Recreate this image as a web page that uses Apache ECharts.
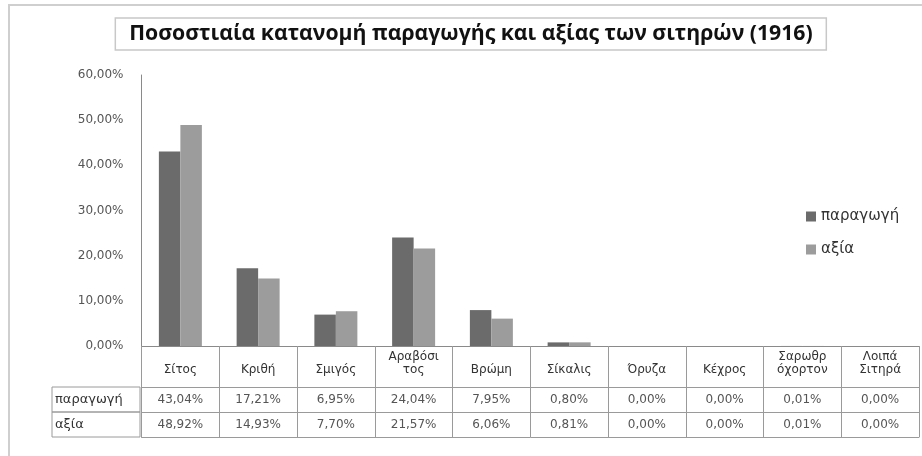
<!DOCTYPE html>
<html>
<head>
<meta charset="utf-8">
<script src="https://cdn.jsdelivr.net/npm/echarts@6/dist/echarts.min.js"></script>
<style>html,body{margin:0;padding:0;background:#fff}#c{width:922px;height:456px}</style>
</head>
<body>
<div id="c"></div>
<script>
const categories = ['Σίτος','Κριθή','Σμιγός','Αραβόσι\nτος','Βρώμη','Σίκαλις','Όρυζα','Κέχρος','Σαρωθρ\nόχορτον','Λοιπά\nΣιτηρά'];
const production = [43.04, 17.21, 6.95, 24.04, 7.95, 0.80, 0.00, 0.00, 0.01, 0.00];
const value = [48.92, 14.93, 7.70, 21.57, 6.06, 0.81, 0.00, 0.00, 0.01, 0.00];
const seriesNames = ['παραγωγή', 'αξία'];
const yTicks = [0, 10, 20, 30, 40, 50, 60];
const titleText = 'Ποσοστιαία κατανομή παραγωγής και αξίας των σιτηρών (1916)';

const fmt = v => v.toFixed(2).replace('.', ',') + '%';
const FONT = '"DejaVu Sans"';
const TITLE_FONT = 'Open Sans';
const GRID_L = 141.5, GRID_B = 110, GRID_T = 75, GRID_R = 3;
const LINE = '#9a9a9a';
const ROW1 = 41, ROW2 = 66, ROW3 = 91;

// size title text to the target box width
const cv = document.createElement('canvas').getContext('2d');
cv.font = 'bold 10px "' + TITLE_FONT + '"';
const w10 = cv.measureText(titleText).width;
const TITLE_TEXT_W = 684, TITLE_BOX_W = 712;
const titleSize = 10 * TITLE_TEXT_W / w10;
cv.font = 'bold ' + titleSize + 'px "' + TITLE_FONT + '"';
const tw = cv.measureText(titleText).width;
const padH = (TITLE_BOX_W - tw) / 2;

const chart = echarts.init(document.getElementById('c'));
const rowAxis = (offset, name, values) => ({
  type: 'category', data: categories, position: 'bottom', offset: offset,
  boundaryGap: true,
  axisLine: { show: true, lineStyle: { color: LINE, width: 1 } },
  axisTick: { show: false },
  axisLabel: values ? {
    show: true, interval: 0, margin: 12.5, verticalAlign: 'middle',
    fontFamily: FONT, fontSize: 12, color: '#555',
    formatter: (v, i) => fmt(values[i])
  } : { show: false },
  name: name ? '{c|' + name + '}' : '', nameLocation: 'start', nameGap: GRID_L - 52,
  nameTextStyle: name ? {
    align: 'left', verticalAlign: 'top',
    rich: {
      c: {
        fontFamily: FONT, fontSize: 13, color: '#333',
        width: 85, height: 25, lineHeight: 25, padding: [0, 0, 0, 3],
        borderColor: LINE, borderWidth: 1, align: 'left', verticalAlign: 'middle'
      }
    }
  } : {}
});

chart.setOption({
  backgroundColor: '#fff',
  animation: false,
  title: {
    text: titleText, left: 115, top: 18,
    padding: [6, padH, 6, padH],
    borderColor: '#c8c8c8', borderWidth: 1.5,
    textStyle: { fontFamily: TITLE_FONT, fontWeight: 'bold', fontSize: titleSize, color: '#111', lineHeight: 20 }
  },
  graphic: [{
    type: 'polyline', silent: true,
    shape: { points: [[9, 456], [9, 5], [922, 5]] },
    style: { stroke: '#cfcfcf', lineWidth: 2, fill: null }
  }],
  legend: {
    orient: 'vertical', left: 801, top: 204, itemWidth: 10, itemHeight: 10, itemGap: 18,
    icon: 'rect',
    textStyle: { fontFamily: FONT, fontSize: 15, color: '#333' },
    data: seriesNames
  },
  grid: { left: GRID_L, right: GRID_R, top: GRID_T, bottom: GRID_B, containLabel: false },
  xAxis: [
    {
      type: 'category', data: categories, position: 'bottom', boundaryGap: true,
      axisLine: { show: true, lineStyle: { color: '#8a8a8a', width: 1 } },
      axisTick: { show: true, interval: 0, length: ROW3, lineStyle: { color: LINE } },
      axisLabel: {
        interval: 0, margin: 30, verticalAlign: 'bottom', lineHeight: 13,
        fontFamily: FONT, fontSize: 12, color: '#333'
      }
    },
    rowAxis(ROW1, seriesNames[0], production),
    rowAxis(ROW2, seriesNames[1], value),
    rowAxis(ROW3, null, null)
  ],
  yAxis: {
    type: 'value', min: yTicks[0], max: yTicks[yTicks.length - 1], interval: 10,
    axisLine: { show: true, lineStyle: { color: '#8a8a8a' } },
    axisTick: { show: false },
    splitLine: { show: false },
    axisLabel: { margin: 18, fontFamily: FONT, fontSize: 12, color: '#555', formatter: v => fmt(v) }
  },
  series: [
    { name: seriesNames[0], type: 'bar', data: production, barWidth: 21.5, barGap: '0%', itemStyle: { color: '#6b6b6b' } },
    { name: seriesNames[1], type: 'bar', data: value, barWidth: 21.5, barGap: '0%', itemStyle: { color: '#9c9c9c' } }
  ]
});
</script>
</body>
</html>
